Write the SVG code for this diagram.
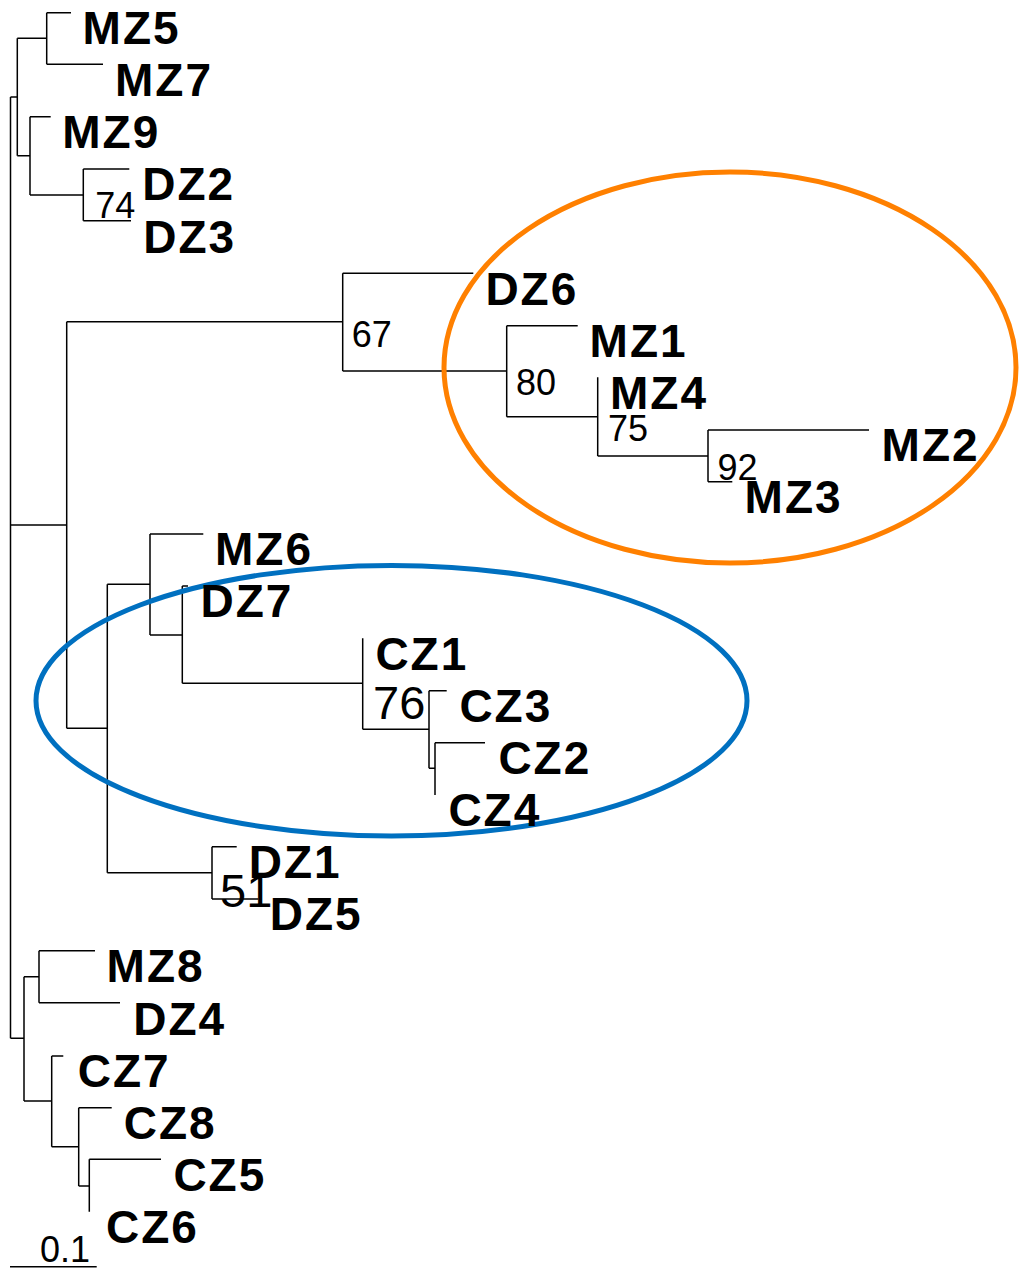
<svg xmlns="http://www.w3.org/2000/svg" width="1019" height="1268" viewBox="0 0 1019 1268">
<style>
.br{fill:none;stroke:#000;stroke-width:1.5}
.lf{font-family:"Liberation Sans",Arial,sans-serif;font-weight:bold;font-size:46px;letter-spacing:2px;fill:#000}
.bs{font-family:"Liberation Sans",Arial,sans-serif;font-size:36px;fill:#000}
.bl{font-family:"Liberation Sans",Arial,sans-serif;font-size:47px;fill:#000}
.ring{fill:none;stroke-width:5}
</style>
<rect width="1019" height="1268" fill="#fff"/>
<g id="connectors" class="br">
<path d="M10.5 97V1038.3M10.5 97H17.3M10.5 525H66.7M10.5 1038.3H24"/>
<path d="M17.3 38.3V155.7M17.3 38.3H46.7M46.7 12.7V64.3M46.7 12.7H71M46.7 64.3H103M17.3 155.7H30M30 116.7V195M30 116.7H50.7M30 195H83.3M83.3 169V220.7M83.3 169H129.3M83.3 220.7H131"/>
<path d="M66.7 321.7V728.3M66.7 321.7H342.7M342.7 273.3V371M342.7 273.3H473.3M342.7 371H506.7M506.7 325.7V416.7M506.7 325.7H577.7M506.7 416.7H597.7M597.7 377.3V456M597.7 456H708M708 430V481.7M708 430H869M708 481.7H732.3"/>
<path d="M66.7 728.3H107.3M107.3 584.3V872.7M107.3 584.3H150M150 534V635M150 534H203.3M150 635H182.3M182.3 586V683.3M182.3 586H188M182.3 683.3H362.7M362.7 638.3V729.3M362.7 729.3H429M429 690.7V768.3M429 690.7H446.7M429 768.3H435M435 742.7V795M435 742.7H485"/>
<path d="M107.3 872.7H212M212 846.7V899M212 846.7H236.7M212 899H258.3"/>
<path d="M24 976.7V1101M24 976.7H39M39 950.7V1002.7M39 950.7H95M39 1002.7H120M24 1101H51.7M51.7 1056V1146.7M51.7 1056H63.3M51.7 1146.7H78.7M78.7 1107.7V1186M78.7 1107.7H111.7M78.7 1186H89.3M89.3 1159.3V1211.7M89.3 1159.3H161"/>
<path id="scalebar" d="M10 1266.7H96.7"/>
</g>
<g id="highlights">
<ellipse class="ring" cx="730" cy="367.5" rx="286" ry="195.5" stroke="#FF8000"/>
<ellipse class="ring" cx="391.5" cy="700.7" rx="355.5" ry="135.3" stroke="#0070C0"/>
</g>
<g id="support">
<text class="bs" x="95.2" y="218.3">74</text>
<text class="bs" x="351.8" y="347.3">67</text>
<text class="bs" x="516" y="395">80</text>
<text class="bs" x="608" y="441">75</text>
<text class="bs" x="717.5" y="480">92</text>
<text class="bl" x="373" y="719.3">76</text>
<text class="bl" x="220" y="907.3">51</text>
<text class="bs" x="40" y="1261.7">0.1</text>
</g>
<g id="MZ5"><text class="lf" x="82.6" y="44">MZ5</text></g>
<g id="MZ7"><text class="lf" x="115" y="96.1">MZ7</text></g>
<g id="MZ9"><text class="lf" x="62.3" y="148.3">MZ9</text></g>
<g id="DZ2"><text class="lf" x="142.2" y="200.4">DZ2</text></g>
<g id="DZ3"><text class="lf" x="143.3" y="252.5">DZ3</text></g>
<g id="DZ6"><text class="lf" x="485.4" y="304.7">DZ6</text></g>
<g id="MZ1"><text class="lf" x="589.6" y="356.8">MZ1</text></g>
<g id="MZ4"><text class="lf" x="610" y="408.9">MZ4</text></g>
<g id="MZ2"><text class="lf" x="881.6" y="461">MZ2</text></g>
<g id="MZ3"><text class="lf" x="744.6" y="513.2">MZ3</text></g>
<g id="MZ6"><text class="lf" x="215" y="565.3">MZ6</text></g>
<g id="DZ7"><text class="lf" x="200.5" y="617.4">DZ7</text></g>
<g id="CZ1"><text class="lf" x="375.4" y="669.6">CZ1</text></g>
<g id="CZ3"><text class="lf" x="459.4" y="721.7">CZ3</text></g>
<g id="CZ2"><text class="lf" x="498.4" y="773.8">CZ2</text></g>
<g id="CZ4"><text class="lf" x="448.4" y="826">CZ4</text></g>
<g id="DZ1"><text class="lf" x="248.8" y="878.1">DZ1</text></g>
<g id="DZ5"><text class="lf" x="269.8" y="930.2">DZ5</text></g>
<g id="MZ8"><text class="lf" x="106.6" y="982.3">MZ8</text></g>
<g id="DZ4"><text class="lf" x="133.2" y="1034.5">DZ4</text></g>
<g id="CZ7"><text class="lf" x="77.7" y="1086.6">CZ7</text></g>
<g id="CZ8"><text class="lf" x="123.7" y="1138.7">CZ8</text></g>
<g id="CZ5"><text class="lf" x="173.4" y="1190.9">CZ5</text></g>
<g id="CZ6"><text class="lf" x="106" y="1243">CZ6</text></g>
</svg>
